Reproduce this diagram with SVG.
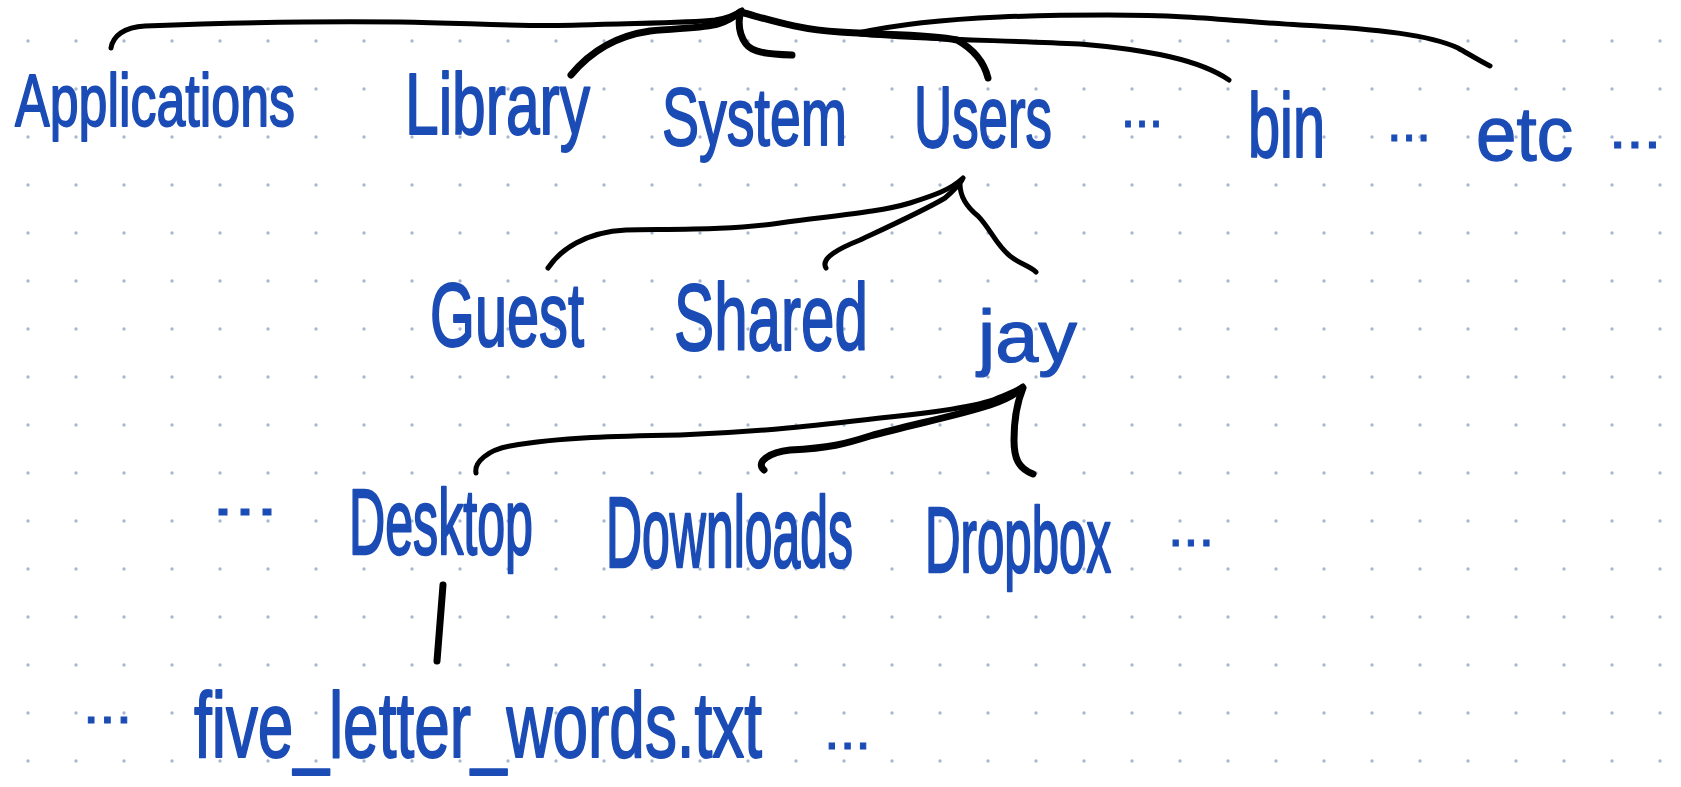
<svg xmlns="http://www.w3.org/2000/svg" width="1681" height="787" viewBox="0 0 1681 787">
<style>
.lbl{font-family:"Liberation Sans",Arial,sans-serif;fill:#1b4cb6;stroke:#1b4cb6;stroke-width:1.3;stroke-linejoin:round}
.dots{font-family:"Liberation Sans",Arial,sans-serif;fill:#1b4cb6;stroke:#1b4cb6;stroke-width:1;font-size:56px}
.edge{fill:none;stroke:#000;stroke-width:5;stroke-linecap:round;stroke-linejoin:round}
.thick{stroke-width:7}
</style>
<defs>
<pattern id="grid" x="4" y="17" width="48" height="48" patternUnits="userSpaceOnUse">
<circle cx="24" cy="24" r="1.7" fill="#a8b8d6"/>
</pattern>
</defs>
<rect width="1681" height="787" fill="#ffffff"/>
<rect width="1681" height="787" fill="url(#grid)"/>

<g id="connectors">
<path class="edge" d="M111,48 C113,36 124,27 145,26 C250,22 330,21 400,22 C470,23 520,27 580,25 C640,23 690,23 715,20 C728,18 736,14 742,10"/>
<path class="edge thick" d="M571,75 C590,52 615,36 650,31 C680,28 705,28 718,24 C728,21 735,16 740,12"/>
<path class="edge thick" d="M740,14 C738,25 740,36 746,44 C752,52 765,54 792,55"/>
<path class="edge thick" d="M744,13 C770,20 800,30 840,32 C880,35 930,34 957,40 C975,50 984,62 988,78"/>
<path class="edge" d="M860,34 C930,40 1000,40 1080,44 C1150,50 1200,60 1229,80"/>
<path class="edge" d="M858,33 C890,26 930,20 1000,17 C1050,15 1080,15 1108,15 C1200,15 1240,22 1300,25 C1380,29 1430,35 1458,48 C1472,56 1482,62 1490,66"/>

<path class="edge" d="M548,268 C560,250 585,232 626,230 C680,229 730,230 780,223 C840,215 880,212 910,203 C935,195 950,190 963,178"/>
<path class="edge" d="M826,268 C820,258 840,248 860,240 C890,226 925,210 945,198 C952,192 958,186 962,180"/>
<path class="edge" d="M960,184 C960,198 968,208 978,216 C990,228 996,245 1010,256 C1020,264 1030,266 1036,272"/>

<path class="edge" d="M476,473 C474,462 488,450 510,446 C560,437 620,436 680,435 C760,432 820,425 880,418 C940,412 985,405 1000,397 C1012,392 1018,390 1023,386"/>
<path class="edge thick" d="M764,470 C755,462 770,452 790,450 C830,448 845,444 870,436 C910,425 960,415 990,405 C1005,400 1015,395 1022,388"/>
<path class="edge thick" d="M1023,388 C1018,400 1014,420 1014,440 C1014,458 1018,468 1033,474"/>

<path class="edge thick" d="M443,585 L437,661"/>
</g>

<g id="node-applications" transform="translate(15,126) scale(1,1.43)"><text class="lbl" x="0" y="0" font-size="52" textLength="280" lengthAdjust="spacingAndGlyphs">Applications</text></g>
<g id="node-library" transform="translate(405,134) scale(1,1.45)"><text class="lbl" x="0" y="0" font-size="60.5" textLength="185" lengthAdjust="spacingAndGlyphs">Library</text></g>
<g id="node-system" transform="translate(662,145) scale(1,1.48)"><text class="lbl" x="0" y="0" font-size="55.5" textLength="185" lengthAdjust="spacingAndGlyphs">System</text></g>
<g id="node-users" transform="translate(914,147) scale(1,1.66)"><text class="lbl" x="0" y="0" font-size="53" textLength="138" lengthAdjust="spacingAndGlyphs">Users</text></g>
<g id="more-1"><text class="dots" x="1121" y="127" textLength="42" lengthAdjust="spacingAndGlyphs">...</text></g>
<g id="node-bin" transform="translate(1248,157) scale(1,1.59)"><text class="lbl" x="0" y="0" font-size="57.7" textLength="77" lengthAdjust="spacingAndGlyphs">bin</text></g>
<g id="more-2"><text class="dots" x="1387" y="141" textLength="44" lengthAdjust="spacingAndGlyphs">...</text></g>
<g id="node-etc" transform="translate(1476,160) scale(1,1.05)"><text class="lbl" x="0" y="0" font-size="72.7" textLength="97" lengthAdjust="spacingAndGlyphs">etc</text></g>
<g id="more-3"><text class="dots" x="1609" y="148" textLength="52" lengthAdjust="spacingAndGlyphs">...</text></g>

<g id="node-guest" transform="translate(430,346) scale(1,1.56)"><text class="lbl" x="0" y="0" font-size="57.7" textLength="154" lengthAdjust="spacingAndGlyphs">Guest</text></g>
<g id="node-shared" transform="translate(674,350) scale(1,1.58)"><text class="lbl" x="0" y="0" font-size="60.2" textLength="194" lengthAdjust="spacingAndGlyphs">Shared</text></g>
<g id="node-jay" transform="translate(978,362) scale(1,0.96)"><text class="lbl" x="0" y="0" font-size="77" textLength="99" lengthAdjust="spacingAndGlyphs">jay</text></g>

<g id="more-4"><text class="dots" x="212" y="515" textLength="66" lengthAdjust="spacingAndGlyphs">...</text></g>
<g id="node-desktop" transform="translate(349,554) scale(1,1.83)"><text class="lbl" x="0" y="0" font-size="50.2" textLength="184" lengthAdjust="spacingAndGlyphs">Desktop</text></g>
<g id="node-downloads" transform="translate(606,567) scale(1,2)"><text class="lbl" x="0" y="0" font-size="49.9" textLength="247" lengthAdjust="spacingAndGlyphs">Downloads</text></g>
<g id="node-dropbox" transform="translate(925,572) scale(1,1.87)"><text class="lbl" x="0" y="0" font-size="49.2" textLength="186" lengthAdjust="spacingAndGlyphs">Dropbox</text></g>
<g id="more-5"><text class="dots" x="1168" y="546" textLength="46" lengthAdjust="spacingAndGlyphs">...</text></g>

<g id="more-6"><text class="dots" x="83" y="723" textLength="49" lengthAdjust="spacingAndGlyphs">...</text></g>
<g id="node-file" transform="translate(194,757) scale(1,1.45)"><text class="lbl" x="0" y="0" font-size="63.9" textLength="568" lengthAdjust="spacingAndGlyphs">five_letter_words.txt</text></g>
<g id="more-7"><text class="dots" x="824" y="749" textLength="47" lengthAdjust="spacingAndGlyphs">...</text></g>
</svg>
